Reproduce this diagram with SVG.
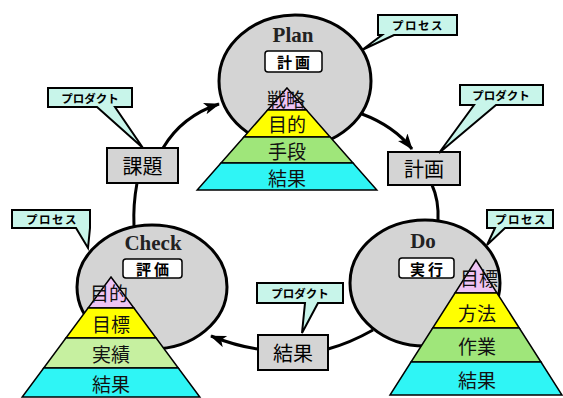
<svg xmlns="http://www.w3.org/2000/svg" width="563" height="398" viewBox="0 0 563 398">
<defs>
<style>
.circ{fill:#d4d4d4;stroke:#000;stroke-width:3}
.conn{fill:none;stroke:#000;stroke-width:3}
.call{fill:#c8f5ea;stroke:#000;stroke-width:2;stroke-linejoin:miter}
.ctext{font-family:"Noto Sans CJK JP",sans-serif;font-weight:bold;font-size:11.5px;fill:#000;text-anchor:middle;dominant-baseline:central}
.sp{letter-spacing:1.5px}
.gbox{fill:#d4d4d4;stroke:#000;stroke-width:2}
.gtext{font-family:"Noto Sans CJK JP",sans-serif;font-size:20px;fill:#000;text-anchor:middle;dominant-baseline:central}
.wbox{fill:#fff;stroke:#000;stroke-width:1.5}
.wtext{font-family:"Noto Sans CJK JP",sans-serif;font-weight:bold;font-size:15px;letter-spacing:3px;fill:#000;text-anchor:middle;dominant-baseline:central}
.title{font-family:"Liberation Serif",serif;font-weight:bold;font-size:21px;fill:#222;text-anchor:middle}
.lay{stroke:#000;stroke-width:1.5;stroke-linejoin:miter}
.pink{fill:#eec4f4}
.yel{fill:#ffff00}
.grn{fill:#9fe67a}
.grn2{fill:#c6f0a0}
.cyn{fill:#2ff5f5}
.ptext{font-family:"Noto Sans CJK JP",sans-serif;font-size:19px;fill:#111;text-anchor:middle;dominant-baseline:central}
</style>
<marker id="arr" markerUnits="userSpaceOnUse" markerWidth="18" markerHeight="14" refX="15" refY="6" orient="auto">
<path d="M0,0 L16,6 L0,12 L4,6 Z" fill="#000"/>
</marker>
</defs>
<rect width="563" height="398" fill="#fff"/>

<g id="connectors">
<path class="conn" d="M362,114 Q394,126 412,149" marker-end="url(#arr)"/>
<path class="conn" d="M432,185 Q439,200 438,221"/>
<path class="conn" d="M328,349 Q350,343 373,330"/>
<path class="conn" d="M258,349 Q236,346 211,336" marker-end="url(#arr)"/>
<path class="conn" d="M137,183 Q133,205 134,226"/>
<path class="conn" d="M163,148 Q182,116 219,104" marker-end="url(#arr)"/>
</g>

<g id="plan">
<ellipse class="circ" cx="295" cy="81" rx="76" ry="66"/>
<text class="title" x="293" y="42">Plan</text>
<rect class="wbox" x="265" y="51" width="57" height="21" rx="3"/>
<text class="wtext" x="295" y="61.5">計画</text>
</g>
<g id="do">
<ellipse class="circ" cx="425" cy="283" rx="75" ry="63"/>
<text class="title" x="423" y="248">Do</text>
<rect class="wbox" x="399" y="258" width="55" height="20" rx="3"/>
<text class="wtext" x="428" y="268">実行</text>
</g>
<g id="check">
<ellipse class="circ" cx="152" cy="287" rx="75" ry="62"/>
<text class="title" x="153" y="250">Check</text>
<rect class="wbox" x="123" y="259" width="59" height="19" rx="3"/>
<text class="wtext" x="154" y="268.5">評価</text>
</g>

<g id="plan-pyramid">
<polygon class="lay pink" points="287,88 306.4,110 267.6,110"/>
<polygon class="lay yel" points="267.6,110 306.4,110 330.1,137 243.9,137"/>
<polygon class="lay grn" points="243.9,137 330.1,137 353,163 221,163"/>
<polygon class="lay cyn" points="221,163 353,163 376.8,190 197.2,190"/>
<text class="ptext" x="286" y="98">戦略</text>
<text class="ptext" x="287" y="123">目的</text>
<text class="ptext" x="287" y="150">手段</text>
<text class="ptext" x="287" y="177">結果</text>
</g>
<g id="do-pyramid">
<polygon class="lay pink" points="476,260 497,293 455,293"/>
<polygon class="lay yel" points="455,293 497,293 519.3,328 432.7,328"/>
<polygon class="lay grn" points="432.7,328 519.3,328 541,362 411,362"/>
<polygon class="lay cyn" points="411,362 541,362 562,395 390,395"/>
<text class="ptext" x="479" y="277">目標</text>
<text class="ptext" x="477" y="312">方法</text>
<text class="ptext" x="477" y="345">作業</text>
<text class="ptext" x="477" y="379">結果</text>
</g>
<g id="check-pyramid">
<polygon class="lay pink" points="111,277 133.9,308 88.1,308"/>
<polygon class="lay yel" points="88.1,308 133.9,308 156.1,338 65.9,338"/>
<polygon class="lay grn2" points="65.9,338 156.1,338 178.3,368 43.7,368"/>
<polygon class="lay cyn" points="43.7,368 178.3,368 199.8,397 22.2,397"/>
<text class="ptext" x="109" y="292">目的</text>
<text class="ptext" x="111" y="323">目標</text>
<text class="ptext" x="111" y="353">実績</text>
<text class="ptext" x="111" y="383">結果</text>
</g>

<g id="box-keikaku">
<rect class="gbox" x="388" y="152" width="72" height="33"/>
<text class="gtext" x="424" y="168.5">計画</text>
</g>
<g id="box-kadai">
<rect class="gbox" x="107" y="148" width="71" height="35"/>
<text class="gtext" x="142.5" y="165.5">課題</text>
</g>
<g id="box-kekka">
<rect class="gbox" x="258" y="335" width="70" height="35"/>
<text class="gtext" x="293" y="352.5">結果</text>
</g>

<g id="callout-plan">
<path class="call" d="M378,15 H457 V35 H394 L362,50 L382,35 H378 Z"/>
<text class="ctext sp" x="418" y="25">プロセス</text>
</g>
<g id="callout-keikaku">
<path class="call" d="M460,85 H543 V105 H496 L439,153 L474,105 H460 Z"/>
<text class="ctext" x="501" y="95">プロダクト</text>
</g>
<g id="callout-kadai">
<path class="call" d="M48,88 H132 V107 H115 L143,148 L97,107 H48 Z"/>
<text class="ctext" x="90" y="97.5">プロダクト</text>
</g>
<g id="callout-check">
<path class="call" d="M12,210 H90 V228 L88,248 L76,228 H12 Z"/>
<text class="ctext sp" x="52" y="219">プロセス</text>
</g>
<g id="callout-do">
<path class="call" d="M487,210 H553 V228 H505 L487,245 L495,228 H487 Z"/>
<text class="ctext sp" x="521" y="219">プロセス</text>
</g>
<g id="callout-kekka">
<path class="call" d="M257,283 H343 V303 H318 L302,333 L305,303 H257 Z"/>
<text class="ctext" x="300" y="293">プロダクト</text>
</g>
</svg>
